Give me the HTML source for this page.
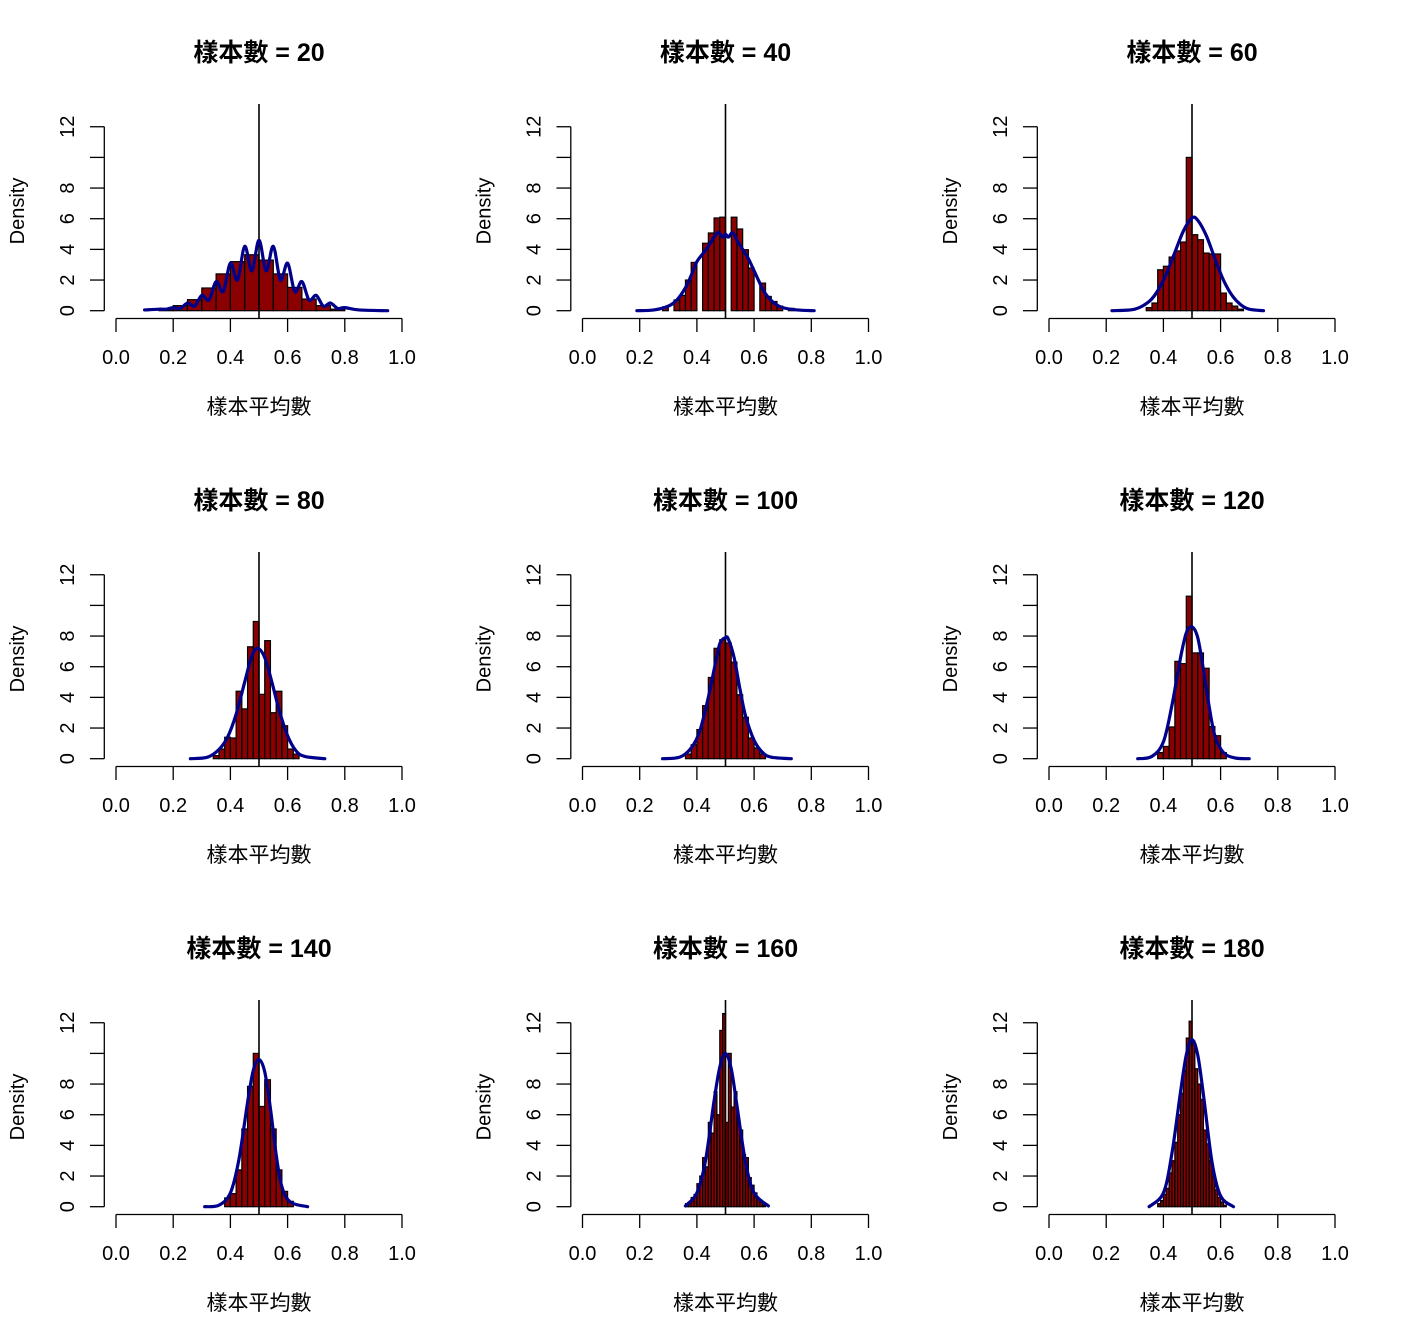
<!DOCTYPE html>
<html><head><meta charset="utf-8">
<style>
html,body{margin:0;padding:0;background:#fff;}
svg{display:block;}
text{font-family:"Liberation Sans","Noto Sans CJK TC","Noto Sans CJK SC",sans-serif;fill:#000;}
</style></head>
<body>
<svg id="chart" width="1401" height="1344" viewBox="0 0 1401 1344" xmlns="http://www.w3.org/2000/svg"></svg>
<script>
// ---- data ----
const sampleSizes = [20, 40, 60, 80, 100, 120, 140, 160, 180];
const xTicks = [0.0, 0.2, 0.4, 0.6, 0.8, 1.0];
const yTicks = [0, 2, 4, 6, 8, 10, 12];
const yTickLabels = ["0", "2", "4", "6", "8", "", "12"];
const trueMean = 0.5;

const binStart = [0.15, 0.28, 0.34, 0.34, 0.36, 0.38, 0.38, 0.36, 0.38];
const binWidth = [0.05, 0.02, 0.02, 0.02, 0.02, 0.02, 0.02, 0.01, 0.01];
const hist1 = [0.1, 0.33, 0.72, 1.48, 2.4, 3.2, 3.65, 3.3, 2.4, 1.52, 0.76, 0.33, 0.1];
const hist2 = [0.25, 0, 0.7, 1.0, 2.0, 3.15, 0, 4.4, 5.07, 6.05, 6.1, 0, 6.1, 5.33, 3.98, 2.78, 0, 1.8, 0.93, 0.6, 0.3, 0, 0.15];
const hist3 = [0.2, 0.5, 2.67, 2.9, 3.5, 3.9, 4.48, 10.0, 4.96, 4.63, 3.76, 3.7, 3.7, 1.15, 0.5, 0.3, 0.1];
const hist4 = [0.2, 0.63, 1.4, 1.35, 4.4, 3.25, 7.3, 8.95, 4.2, 7.7, 3.0, 4.4, 2.15, 0.63, 0.3];
const hist5 = [0.3, 0.91, 1.9, 3.46, 5.3, 7.2, 7.76, 7.55, 6.3, 4.17, 2.7, 1.35, 0.7, 0.3];
const hist6 = [0.4, 0.8, 2.07, 6.35, 6.2, 10.6, 6.9, 6.9, 5.9, 2.1, 1.5, 0.4];
const hist7 = [0.57, 0.85, 2.4, 5.07, 7.85, 10.0, 6.54, 8.28, 5.07, 2.4, 1.0, 0.35];
const hist8 = [0.2, 0.3, 0.6, 0.8, 1.5, 2.0, 3.2, 2.6, 5.5, 4.8, 7.5, 6.0, 11.5, 12.6, 5.5, 10.0, 6.5, 7.5, 5.5, 5.0, 3.4, 3.2, 1.9, 1.4, 0.9, 0.5, 0.3, 0.1];
const hist9 = [0.2, 0.4, 0.8, 1.2, 2.2, 3.0, 4.2, 6.0, 7.4, 8.9, 11.0, 12.1, 10.8, 9.0, 8.0, 7.0, 5.0, 4.1, 3.0, 2.0, 1.1, 0.6, 0.3, 0.1];
const hists = [hist1, hist2, hist3, hist4, hist5, hist6, hist7, hist8, hist9];

const dens1X = [0.10,0.15,0.175,0.2,0.225,0.25,0.275,0.30,0.325,0.35,0.375,0.40,0.425,0.45,0.475,0.50,0.525,0.55,0.575,0.60,0.625,0.65,0.675,0.70,0.725,0.75,0.775,0.80,0.85,0.95];
const dens1Y = [0.05,0.1,0.1,0.2,0.15,0.5,0.3,1.0,0.7,1.9,1.25,3.1,2.0,4.2,2.6,4.6,2.6,4.2,2.0,3.1,1.25,1.9,0.7,1.0,0.3,0.5,0.15,0.2,0.05,0.0];
const dens2X = [0.19,0.25,0.30,0.33,0.36,0.38,0.40,0.42,0.44,0.46,0.475,0.49,0.50,0.51,0.525,0.54,0.56,0.58,0.60,0.62,0.64,0.67,0.70,0.75,0.81];
const dens2Y = [0.0,0.05,0.3,0.7,1.5,2.3,3.2,3.7,4.2,4.8,5.1,4.8,5.0,4.8,5.1,4.6,4.0,3.4,2.6,1.8,1.1,0.5,0.2,0.05,0.0];
const dens3X = [0.22,0.30,0.35,0.38,0.41,0.44,0.47,0.50,0.52,0.55,0.58,0.61,0.64,0.67,0.70,0.75];
const dens3Y = [0,0.1,0.6,1.3,2.4,3.8,5.2,6.05,5.9,4.9,3.4,2.0,1.0,0.4,0.1,0];
const dens4X = [0.26,0.32,0.36,0.39,0.42,0.45,0.475,0.495,0.52,0.545,0.57,0.60,0.63,0.66,0.73];
const dens4Y = [0,0.1,0.6,1.4,2.9,5.0,6.7,7.2,6.6,5.0,3.2,1.5,0.5,0.15,0];
const dens5X = [0.28,0.34,0.38,0.41,0.44,0.46,0.48,0.50,0.51,0.53,0.55,0.57,0.60,0.63,0.66,0.73];
const dens5Y = [0,0.1,0.7,1.8,4.0,5.8,7.5,7.9,7.8,6.6,4.6,2.8,1.2,0.4,0.1,0];
const dens6X = [0.31,0.36,0.40,0.43,0.46,0.48,0.50,0.52,0.54,0.56,0.58,0.61,0.65,0.70];
const dens6Y = [0,0.15,1.1,3.5,6.6,8.2,8.6,7.9,5.8,3.4,1.5,0.4,0.05,0];
const dens7X = [0.31,0.36,0.40,0.43,0.46,0.48,0.50,0.52,0.54,0.56,0.58,0.61,0.67];
const dens7Y = [0,0.1,0.9,3.1,6.8,8.9,9.6,8.8,6.4,3.4,1.3,0.3,0];
const dens8X = [0.36,0.40,0.43,0.46,0.48,0.50,0.52,0.54,0.57,0.60,0.65];
const dens8Y = [0.05,0.9,3.0,6.9,9.1,10.0,9.0,6.6,2.9,0.9,0.05];
const dens9X = [0.35,0.40,0.43,0.46,0.48,0.50,0.52,0.54,0.57,0.60,0.645];
const dens9Y = [0,0.9,3.5,7.5,9.9,10.9,9.9,7.3,2.9,0.7,0];
const densX = [dens1X, dens2X, dens3X, dens4X, dens5X, dens6X, dens7X, dens8X, dens9X];
const densY = [dens1Y, dens2Y, dens3Y, dens4Y, dens5Y, dens6Y, dens7Y, dens8Y, dens9Y];

// ---- drawing ----
const NS = "http://www.w3.org/2000/svg";
const svg = document.getElementById("chart");
const colOff = [0, 466.5, 933];
const rowOff = [0, 448, 896];
function mk(tag, attrs, parent) {
  const e = document.createElementNS(NS, tag);
  for (const k in attrs) e.setAttribute(k, attrs[k]);
  parent.appendChild(e);
  return e;
}
function smoothPath(pts) {
  let d = "M" + pts[0][0].toFixed(2) + "," + pts[0][1].toFixed(2);
  for (let i = 0; i < pts.length - 1; i++) {
    const p0 = pts[Math.max(0, i - 1)], p1 = pts[i], p2 = pts[i + 1], p3 = pts[Math.min(pts.length - 1, i + 2)];
    const c1x = p1[0] + (p2[0] - p0[0]) / 6, c1y = p1[1] + (p2[1] - p0[1]) / 6;
    const c2x = p2[0] - (p3[0] - p1[0]) / 6, c2y = p2[1] - (p3[1] - p1[1]) / 6;
    d += " C" + c1x.toFixed(2) + "," + c1y.toFixed(2) + " " + c2x.toFixed(2) + "," + c2y.toFixed(2) + " " + p2[0].toFixed(2) + "," + p2[1].toFixed(2);
  }
  return d;
}

for (let p = 0; p < 9; p++) {
  const ox = colOff[p % 3], oy = rowOff[Math.floor(p / 3)];
  const xs = v => ox + 116 + v * 286;
  const ys = d => oy + 310.7 - d * 15.33;
  const g = mk("g", {}, svg);
  
  

  const t = mk("text", {x: ox + 259, y: oy + 61, "text-anchor": "middle", "font-size": 25, "font-weight": "bold"}, g);
  t.textContent = "樣本數 = " + sampleSizes[p];
  
  

  const bg = mk("g", {}, g);
  
  
  hists[p].forEach((h, i) => {
    if (h <= 0) return;
    const x0 = xs(binStart[p] + i * binWidth[p]), x1 = xs(binStart[p] + (i + 1) * binWidth[p]);
    const r = mk("rect", {x: x0, y: ys(h), width: x1 - x0, height: ys(0) - ys(h), fill: "#8b0000", stroke: "#000", "stroke-width": 1.2}, bg);
    
    
  });

  const ml = mk("line", {x1: xs(trueMean), x2: xs(trueMean), y1: oy + 104, y2: oy + 319, stroke: "#000", "stroke-width": 1.6}, g);
  
  

  const pts = densX[p].map((v, i) => [xs(v), ys(densY[p][i])]);
  const c = mk("path", {d: smoothPath(pts), fill: "none", stroke: "#00008b", "stroke-width": 3.2, "stroke-linejoin": "round", "stroke-linecap": "round"}, g);
  
  

  const ya = mk("g", {}, g);
  
  
  mk("line", {x1: ox + 104.3, x2: ox + 104.3, y1: ys(0), y2: ys(12), stroke: "#000", "stroke-width": 1.3}, ya);
  yTicks.forEach((v, i) => {
    mk("line", {x1: ox + 90, x2: ox + 104.3, y1: ys(v), y2: ys(v), stroke: "#000", "stroke-width": 1.3}, ya);
    if (yTickLabels[i]) {
      const tl = mk("text", {x: 0, y: 0, "text-anchor": "middle", "font-size": 20, transform: "translate(" + (ox + 74) + "," + ys(v) + ") rotate(-90)"}, ya);
      tl.textContent = yTickLabels[i];
      
      
    }
  });
  const yt = mk("text", {x: 0, y: 0, "text-anchor": "middle", "font-size": 20, transform: "translate(" + (ox + 24) + "," + (oy + 211) + ") rotate(-90)"}, g);
  yt.textContent = "Density";
  
  

  const xa = mk("g", {}, g);
  
  
  mk("line", {x1: xs(0), x2: xs(1), y1: oy + 318.5, y2: oy + 318.5, stroke: "#000", "stroke-width": 1.3}, xa);
  xTicks.forEach(v => {
    mk("line", {x1: xs(v), x2: xs(v), y1: oy + 318.5, y2: oy + 332, stroke: "#000", "stroke-width": 1.3}, xa);
    const tl = mk("text", {x: xs(v), y: oy + 364, "text-anchor": "middle", "font-size": 20}, xa);
    tl.textContent = v.toFixed(1);
    
    
  });
  const xt = mk("text", {x: ox + 259, y: oy + 414, "text-anchor": "middle", "font-size": 21}, g);
  xt.textContent = "樣本平均數";
  
  
}
</script>
</body></html>
